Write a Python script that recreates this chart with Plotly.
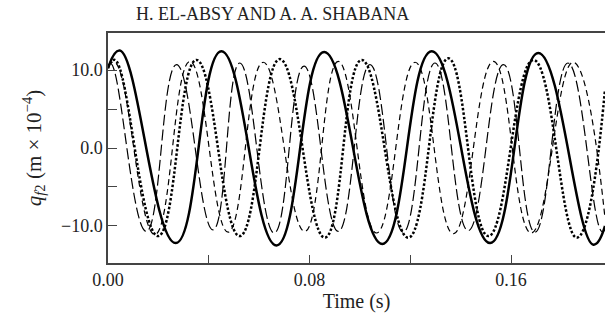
import plotly.graph_objects as go

# Extrema (time in s, q_f2 in m x 1e-4)
solid_t = [0.0, 0.0047, 0.0269, 0.0450, 0.0669, 0.0858, 0.1089, 0.1285, 0.1517, 0.1708, 0.1927, 0.1973]
solid_v = [10.2, 12.5, -12.2, 12.4, -12.5, 12.3, -12.3, 12.4, -12.2, 12.2, -12.4, -10.0]

dot_t = [0.0, 0.0027, 0.0199, 0.0351, 0.0523, 0.0682, 0.0861, 0.1007, 0.1192, 0.1351, 0.1510, 0.1689, 0.1861, 0.1973]
dot_v = [10.3, 11.3, -11.3, 11.3, -11.3, 11.4, -11.5, 11.3, -11.5, 11.5, -11.3, 11.3, -11.5, 7.5]

longdash_t = [0.0, 0.0012, 0.0152, 0.0272, 0.0417, 0.0523, 0.0660, 0.0778, 0.0914, 0.1040, 0.1172, 0.1298, 0.1430, 0.1570, 0.1695, 0.1826, 0.1960, 0.1973]
longdash_v = [10.6, 10.8, -10.7, 10.7, -10.5, 10.9, -10.9, 10.5, -10.7, 10.7, -10.8, 10.9, -10.6, 10.7, -10.8, 10.9, -10.7, -10.5]

dash_t = [0.0, 0.0027, 0.0186, 0.0325, 0.0477, 0.0616, 0.0781, 0.0914, 0.1066, 0.1219, 0.1371, 0.1530, 0.1680, 0.1846, 0.1973]
dash_v = [10.5, 11.0, -11.1, 11.1, -10.8, 11.0, -10.7, 11.1, -10.9, 11.0, -11.0, 11.1, -10.9, 11.0, -9.0]

x_tickvals = [0.0, 0.04, 0.08, 0.12, 0.16]
x_ticktext = ["0.00", "", "0.08", "", "0.16"]
y_tickvals = [-10, -5, 0, 5, 10]
y_ticktext = ["\u221210.0", "", "0.0", "", "10.0"]

fig = go.Figure()
fig.add_trace(go.Scatter(x=longdash_t, y=longdash_v, mode="lines",
                         line=dict(color="black", width=1.2, dash="11px,4px", shape="spline", smoothing=1.3)))
fig.add_trace(go.Scatter(x=dash_t, y=dash_v, mode="lines",
                         line=dict(color="black", width=1.2, dash="6px,4px", shape="spline", smoothing=1.3)))
fig.add_trace(go.Scatter(x=dot_t, y=dot_v, mode="lines",
                         line=dict(color="black", width=2.5, dash="2.5px,2px", shape="spline", smoothing=1.3)))
fig.add_trace(go.Scatter(x=solid_t, y=solid_v, mode="lines",
                         line=dict(color="black", width=2.5, shape="spline", smoothing=1.3)))

serif = "Liberation Serif, DejaVu Serif, serif"
fig.update_layout(
    width=605, height=325,
    margin=dict(l=108, r=0, t=33, b=62),
    paper_bgcolor="white", plot_bgcolor="white",
    showlegend=False,
    font=dict(family=serif, color="#222", size=18),
    annotations=[dict(text="H. EL-ABSY AND A. A. SHABANA",
                      x=(272 - 108) / 497, y=(325 - 62 - 14) / 230,
                      xref="paper", yref="paper", xanchor="center", yanchor="middle",
                      showarrow=False, font=dict(family=serif, size=18, color="#222"))],
)
fig.update_xaxes(range=[0, 0.1973], tickvals=x_tickvals, ticktext=x_ticktext,
                 ticks="inside", ticklen=8, tickwidth=1.3, tickcolor="#444",
                 showline=True, linecolor="#444", linewidth=1.5, mirror=True,
                 showgrid=False, zeroline=False,
                 title=dict(text="Time (s)", font=dict(family=serif, size=20), standoff=4),
                 tickfont=dict(family=serif, size=18))
fig.update_yaxes(range=[-14.75, 14.75], tickvals=y_tickvals, ticktext=y_ticktext,
                 ticks="inside", ticklen=9, tickwidth=1.3, tickcolor="#444",
                 showline=True, linecolor="#444", linewidth=1.5,
                 showgrid=False, zeroline=False,
                 title=dict(text="<i>q</i><sub><i>f</i>2</sub> (m \u00d7 10<sup>\u22124</sup>)",
                            font=dict(family=serif, size=21), standoff=14),
                 tickfont=dict(family=serif, size=18))

fig.write_html("out.html")
